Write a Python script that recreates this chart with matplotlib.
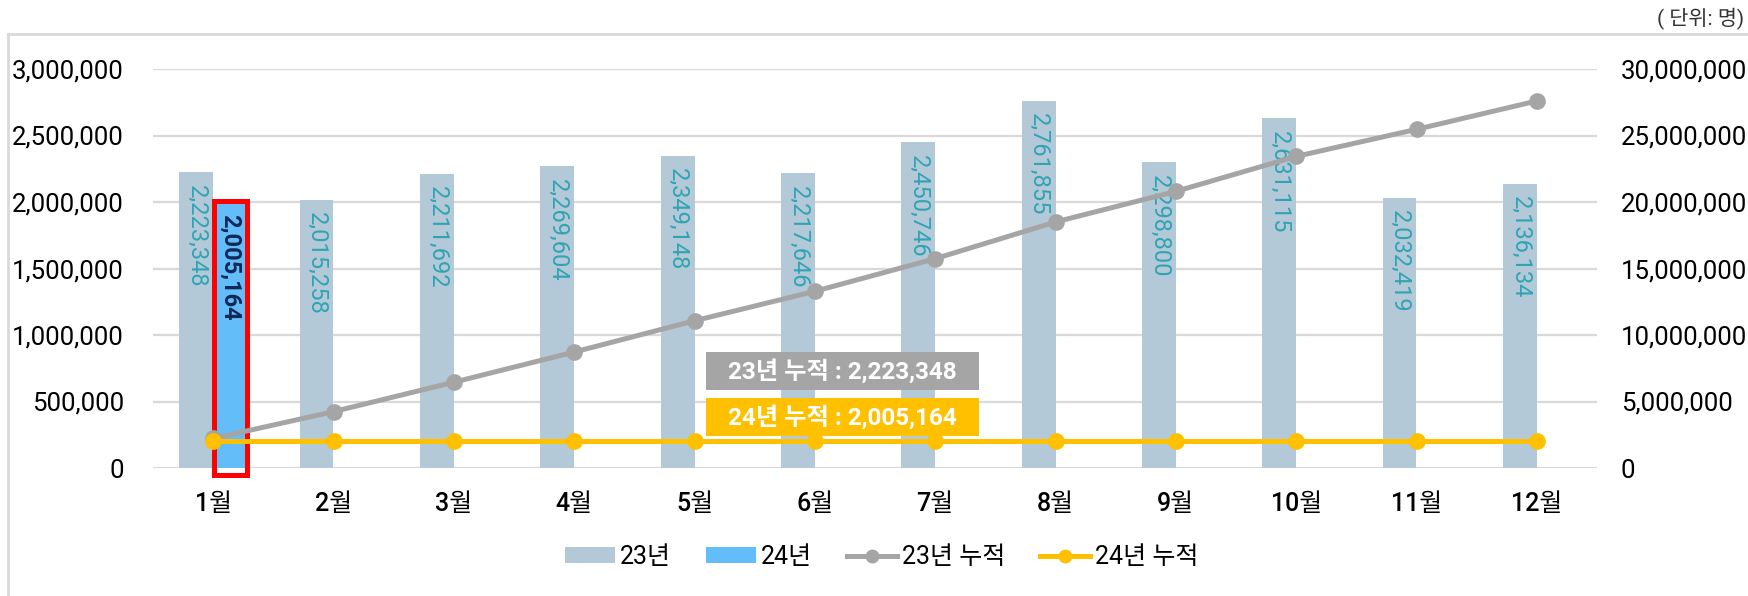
import matplotlib
matplotlib.use("Agg")
import matplotlib.pyplot as plt
from matplotlib.patches import Rectangle
from matplotlib.lines import Line2D
from matplotlib.patches import Patch
import numpy as np

plt.rcParams['font.family'] = ['Roboto', 'Noto Sans CJK KR', 'DejaVu Sans']

months = ['1월', '2월', '3월', '4월', '5월', '6월', '7월', '8월', '9월', '10월', '11월', '12월']
v23 = [2223348, 2015258, 2211692, 2269604, 2349148, 2217646, 2450746, 2761855, 2298800, 2631115, 2032419, 2136134]
v24 = [2005164]
acc23 = [2223348, 4238606, 6450298, 8719902, 11069050, 13286696, 15737442, 18499297, 20798097, 23429212, 25461631, 27597765]
acc24 = [2005164] * 12
left_ticks = [0, 500000, 1000000, 1500000, 2000000, 2500000, 3000000]
right_ticks = [0, 5000000, 10000000, 15000000, 20000000, 25000000, 30000000]
legend_labels = ['23년', '24년', '23년 누적', '24년 누적']
note23 = '23년 누적 : 2,223,348'
note24 = '24년 누적 : 2,005,164'
unit_text = '( 단위: 명)'

C23 = '#b3c9d8'
C24 = '#63bdf9'
CGRAY = '#a5a5a5'
CYEL = '#ffc000'
CGRID = '#d9d9d9'

W, H = 1748, 596
AX_L, AX_R, AX_T, AX_B = 153, 1597, 69, 468
fig = plt.figure(figsize=(W / 100, H / 100), dpi=100)
ax = fig.add_axes([AX_L / W, 1 - AX_B / H, (AX_R - AX_L) / W, (AX_B - AX_T) / H])
ax2 = ax.twinx()

x = np.arange(len(months))
bw = 0.28
ax.bar(x - bw / 2, v23, width=bw, color=C23, zorder=2)
x24 = x[:len(v24)]
ax.bar(x24 + bw / 2, v24, width=bw, color=C24, zorder=2)
# red highlight frame around 24 bar
for xi, v in zip(x24, v24):
    ax.add_patch(Rectangle((xi + 0.004, -50000), bw, v + 50000, fill=False,
                           edgecolor='#ff0000', linewidth=3.6, zorder=6, clip_on=False))

for xi, v in zip(x, v23):
    ax.annotate(f'{v:,}', (xi - bw / 2, v), xytext=(0, -9), textcoords='offset points',
                rotation=-90, ha='center', va='top', fontsize=17, color='#2fa4b4', zorder=3)
for xi, v in zip(x24, v24):
    ax.annotate(f'{v:,}', (xi + bw / 2, v), xytext=(0, -9), textcoords='offset points',
                rotation=-90, ha='center', va='top', fontsize=17, color='#10285a',
                fontweight='bold', zorder=7)

ax.set_ylim(0, 3000000)
ax.set_xlim(-0.5, len(months) - 0.5)
ax.set_yticks(left_ticks)
ax.set_yticklabels([f'{t:,}' for t in left_ticks], fontsize=18.5, color='#000000')
ax.set_xticks(x)
ax.set_xticklabels(months, fontsize=18, fontweight='medium', color='#000000')
ax.tick_params(axis='y', length=0, pad=21)
ax.tick_params(axis='x', length=0, pad=17)
ax.grid(axis='y', color=CGRID, linewidth=1.6, zorder=0)
ax.set_axisbelow(True)
for s in ax.spines.values():
    s.set_visible(False)

ax2.set_ylim(0, 30000000)
ax2.set_yticks(right_ticks)
ax2.set_yticklabels([f'{t:,}' for t in right_ticks], fontsize=18.5, color='#000000')
ax2.tick_params(axis='y', length=0, pad=17)
for s in ax2.spines.values():
    s.set_visible(False)
ax2.plot(x, acc23, color=CGRAY, linewidth=3.6, marker='o', markersize=11, zorder=4)
ax2.plot(x, acc24, color=CYEL, linewidth=3.6, marker='o', markersize=11, zorder=5)

# annotation boxes
x0, x1 = (706 - AX_L) / (AX_R - AX_L), (979 - AX_L) / (AX_R - AX_L)
for (ya, yb), col, txt in [((0.195, 0.291), CGRAY, note23), ((0.080, 0.175), CYEL, note24)]:
    ax2.add_patch(Rectangle((x0, ya), x1 - x0, yb - ya, transform=ax2.transAxes,
                            facecolor=col, edgecolor='none', zorder=8))
    ax2.text((x0 + x1) / 2, (ya + yb) / 2, txt, transform=ax2.transAxes, ha='center', va='center',
             fontsize=17.5, color='white', fontweight='bold', zorder=9)

# legend
handles = [Patch(facecolor=C23, edgecolor='none'),
           Patch(facecolor=C24, edgecolor='none'),
           Line2D([], [], color=CGRAY, linewidth=3.6, marker='o', markersize=9),
           Line2D([], [], color=CYEL, linewidth=3.6, marker='o', markersize=9)]
fig.legend(handles, legend_labels, loc='center', bbox_to_anchor=((AX_L + AX_R) / 2 / W + 0.004, 1 - 557 / H),
           ncol=4, frameon=False, fontsize=18, handlelength=2.0, handleheight=0.6,
           handletextpad=0.2, columnspacing=1.4)

# outer frame lines
fig.add_artist(Line2D([8 / W, 1], [1 - 34 / H, 1 - 34 / H], color=CGRID, linewidth=2, transform=fig.transFigure))
fig.add_artist(Line2D([8 / W, 8 / W], [0, 1 - 34 / H], color=CGRID, linewidth=2, transform=fig.transFigure))

fig.text(1744 / W, 1 - 18 / H, unit_text, ha='right', va='center', fontsize=15, color='#333333')

fig.savefig('out.png', dpi=100)
